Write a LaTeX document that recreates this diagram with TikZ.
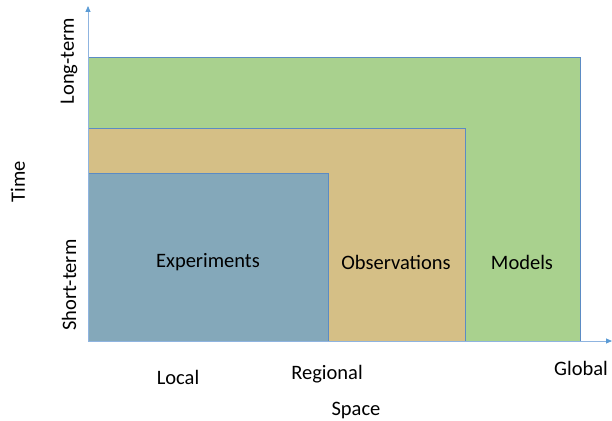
\documentclass[tikz,border=0pt]{standalone}
\usepackage{fontspec}
\setmainfont{Carlito}
\usetikzlibrary{arrows.meta}
\definecolor{mgreen}{HTML}{A9D18E}
\definecolor{mtan}{HTML}{D5BF86}
\definecolor{mblue}{HTML}{84A8BA}
\definecolor{mborder}{HTML}{5B8BC4}
\definecolor{maxis}{HTML}{8FB4E0}
\definecolor{mtip}{HTML}{5B9BD5}
\tikzset{
  region/.style={draw=mborder, line width=0.9pt},
  lbl/.style={font=\fontsize{20.5}{24}\selectfont, text=black, inner sep=0pt},
  axisline/.style={draw=maxis, line width=0.8pt, -{Triangle[length=6pt,width=5pt,fill=mtip,color=mtip]}}
}
\begin{document}
\begin{tikzpicture}[x=1pt,y=-1pt]
\useasboundingbox (0,0) rectangle (612,420);
\coordinate (o) at (88,341);
\coordinate (ytop) at (88,6);
\coordinate (xend) at (612,341);
\fill[mgreen, region] (88,57) rectangle (580,341);
\fill[mtan, region] (88,128) rectangle (465,341);
\fill[mblue, region] (88,173) rectangle (328,341);
\draw[axisline] (o) -- (ytop);
\draw[axisline] (o) -- (xend);
\node[lbl] (exp) at (208,262) {Experiments};
\node[lbl] (obs) at (396,262) {Observations};
\node[lbl] (mod) at (522,262) {Models};
\node[lbl] (loc) at (178,377) {Local};
\node[lbl] (reg) at (327,374) {Regional};
\node[lbl] (glo) at (581,368) {Global};
\node[lbl] (spa) at (356,410) {Space};
\node[lbl, rotate=90] (tim) at (18,182) {Time};
\node[lbl, rotate=90] (lt) at (69,61) {Long-term};
\node[lbl, rotate=90] (st) at (69,285) {Short-term};
\end{tikzpicture}
\end{document}
